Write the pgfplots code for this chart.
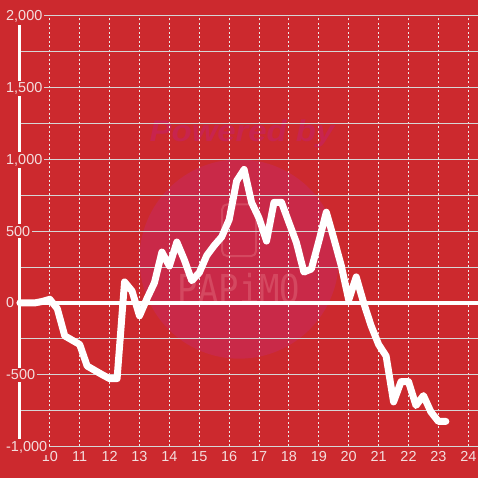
\documentclass[border=0pt]{standalone}
\usepackage{fontspec}
\setmainfont{Liberation Sans}
\newfontfamily\wmfont{DejaVu Sans Mono}
\usepackage{pgfplots}
\pgfplotsset{compat=1.18}
\definecolor{bgred}{RGB}{204,41,46}
\definecolor{wmcircle}{RGB}{201,41,72}
\definecolor{wmtext}{RGB}{200,36,78}
\definecolor{wmline}{RGB}{212,72,96}
\definecolor{gridc}{RGB}{214,214,214}
\definecolor{gridw}{RGB}{236,236,236}
\definecolor{lab}{RGB}{243,222,222}
\begin{document}
\begin{tikzpicture}
\begin{axis}[
 set layers,
 at={(20pt,32pt)}, anchor=south west,
 scale only axis, width=460pt, height=432pt,
 xmin=9, xmax=24.3333, ymin=-1000, ymax=2000,
 clip=false,
 axis x line=bottom, axis y line=left,
 x axis line style={draw=none},
 y axis line style={draw=white, line width=3pt, -},
 xtick={10,...,24}, ytick={-1000,-500,...,2000},
 minor ytick={-750,-250,250,750,1250,1750},
 major tick length=0pt, minor tick length=0pt,
 xmajorgrids, ymajorgrids, yminorgrids,
 x grid style={gridw, line width=1pt, dash pattern=on 2pt off 2.5pt},
 y grid style={gridc, line width=1pt},
 /pgf/number format/assume math mode=true,
 /pgf/number format/1000 sep={,},
 ticklabel style={font=\fontsize{14.5}{16}\selectfont, text=lab},
 yticklabel style={anchor=base west, xshift=-16pt, yshift=-5pt, fill=bgred, inner sep=2pt},
 xticklabel style={yshift=-1.5pt},
]
\begin{pgfonlayer}{axis background}
\fill[bgred] ([shift={(-20pt,-32pt)}]rel axis cs:0,0) rectangle ([shift={(0pt,16pt)}]rel axis cs:1,1);
\fill[wmcircle] (axis cs:16.3333,305.6) circle[radius=100pt];
\node[text=wmtext, font=\fontsize{30}{30}\selectfont\bfseries\itshape, xscale=1.1] at (axis cs:16.43,1180) {Powered by};
\node[text=wmline, font=\wmfont\fontsize{40}{40}\selectfont, xscale=0.85] at (axis cs:16.33,97) {PAPiMO};
\draw[wmline, line width=2pt, rounded corners=5pt] (axis cs:15.767,326) rectangle (axis cs:16.9,687);
\end{pgfonlayer}
\addplot[white, line width=3.5pt] coordinates {(9,0) (24.3333,0)};
\addplot[white, line width=7pt, line join=round, line cap=round] coordinates {
(9.00,0) (9.25,0) (9.50,0) (9.75,10) (10.00,25) (10.25,-40) (10.50,-230) (10.75,-260)
(11.00,-290) (11.25,-440) (11.50,-470) (11.75,-500) (12.00,-528) (12.25,-528) (12.50,146) (12.75,83)
(13.00,-90) (13.25,30) (13.50,140) (13.75,354) (14.00,257) (14.25,424) (14.50,300) (14.75,155)
(15.00,210) (15.25,330) (15.50,400) (15.75,460) (16.00,580) (16.25,850) (16.50,930) (16.75,700)
(17.00,590) (17.25,431) (17.50,701) (17.75,701) (18.00,560) (18.25,420) (18.50,215) (18.75,236)
(19.00,430) (19.25,632) (19.50,450) (19.75,260) (20.00,20) (20.25,181) (20.50,0) (20.75,-160)
(21.00,-290) (21.25,-370) (21.50,-690) (21.75,-549) (22.00,-549) (22.25,-715) (22.50,-646) (22.75,-760)
(23.00,-826) (23.25,-826)
};
\end{axis}
\end{tikzpicture}
\end{document}
